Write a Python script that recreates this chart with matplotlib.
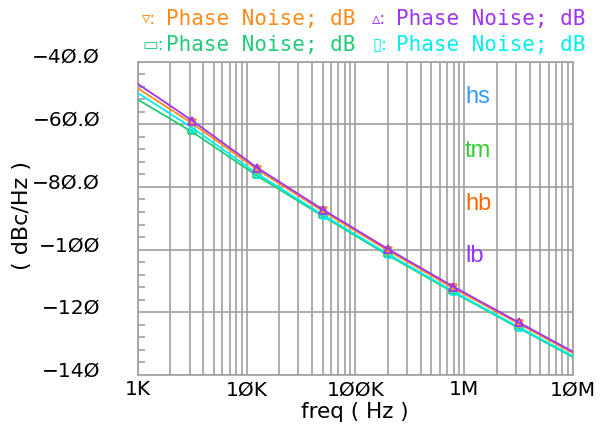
import numpy as np
import matplotlib
matplotlib.use('agg')
from matplotlib import pyplot as plt
from matplotlib.ticker import LogLocator, MultipleLocator, NullFormatter
from matplotlib.transforms import ScaledTranslation

# frequency points (log10 Hz) -- markers sit on the inner ones
log_freq = [3.0, 3.5, 4.1, 4.7, 5.3, 5.9, 6.5, 7.0]
pn_orange = [-48.5, -59.7, -74.5, -87.7, -100.3, -112.3, -123.6, -133.0]
pn_purple = [-47.1, -58.8, -73.9, -87.2, -99.8, -111.8, -123.2, -132.6]
pn_green = [-52.1, -62.4, -76.5, -89.3, -101.8, -113.6, -125.0, -134.3]
pn_cyan = [-50.0, -61.1, -75.8, -88.9, -101.4, -113.3, -124.7, -134.0]

xticks = [1e3, 1e4, 1e5, 1e6, 1e7]
xtick_labels = ['1K', '1ØK', '1ØØK', '1M', '1ØM']
yticks = [-40, -60, -80, -100, -120, -140]
ytick_labels = ['−4Ø.Ø', '−6Ø.Ø', '−8Ø.Ø', '−1ØØ', '−12Ø', '−14Ø']

corner_labels = ['hs', 'tm', 'hb', 'lb']
corner_colors = ['#3399FF', '#33CC33', '#FF6600', '#9933FF']

W, H = 604, 427
fig = plt.figure(figsize=(W / 100, H / 100), dpi=100)
ax = fig.add_axes([137.7 / W, 1 - 376 / H, 435.3 / W, 313.4 / H])

freq = 10 ** np.array(log_freq)
grey = '#A0A0A0'

wide_box = [(-1, -0.55), (1, -0.55), (1, 0.55), (-1, 0.55), (-1, -0.55)]
tall_box = [(-0.6, -1), (0.6, -1), (0.6, 1), (-0.6, 1), (-0.6, -1)]

series = [
    (pn_green, '#22CC77', wide_box),
    (pn_cyan, '#00EEEE', tall_box),
    (pn_orange, '#FF8C1A', 'v'),
    (pn_purple, '#A033F0', '^'),
]
for vals, col, mk in series:
    ax.plot(freq, vals, color=col, lw=1.3, marker=mk, markersize=6,
            markerfacecolor='none', markeredgecolor=col, markeredgewidth=1.2,
            markevery=list(range(1, len(freq) - 1)), zorder=3)

ax.set_xscale('log')
ax.set_xlim(1e3, 1e7)
ax.set_ylim(-140, -40)
ax.set_xticks(xticks)
ax.set_xticklabels(xtick_labels)
ax.xaxis.set_minor_locator(LogLocator(base=10, subs=np.arange(2, 10)))
ax.xaxis.set_minor_formatter(NullFormatter())
ax.set_yticks(yticks)
ax.set_yticklabels(ytick_labels)
ax.yaxis.set_minor_locator(MultipleLocator(4))

ax.grid(True, which='major', color=grey, lw=1.2)
ax.grid(True, which='minor', axis='x', color=grey, lw=1.2)
ax.tick_params(axis='both', which='major', length=0, labelsize=14.5, colors='black')
ax.tick_params(axis='x', which='major', pad=3)
ax.tick_params(axis='y', which='major', pad=27)
ax.tick_params(axis='x', which='minor', length=0)
ax.tick_params(axis='y', which='minor', direction='in', length=5, color=grey, width=1.2)
for sp in ax.spines.values():
    sp.set_color(grey)
    sp.set_linewidth(1.2)

for lab in ax.get_yticklabels():
    lab.set_fontfamily('DejaVu Sans')
    lab.set_transform(lab.get_transform() + ScaledTranslation(0, 7 / 100, fig.dpi_scale_trans))
for lab in ax.get_xticklabels():
    lab.set_fontfamily('DejaVu Sans')

fig.text(355 / W, 1 - 412 / H, 'freq ( Hz )', ha='center', va='center', fontsize=15.5)
fig.text(22 / W, 1 - 216 / H, '( dBc/Hz )', ha='center', va='center', rotation=90, fontsize=16)

# header legend
header = [
    (142, 19, '▿', '#FF8C1A'),
    (372, 19, '▵', '#A033F0'),
    (142, 45, '▭', '#22CC77'),
    (372, 45, '▯', '#00EEEE'),
]
for x0, y0, sym, col in header:
    fig.text(x0 / W, 1 - y0 / H, sym + ':', color=col, fontsize=12, ha='left', va='center',
             family='DejaVu Sans')
    fig.text((x0 + 24) / W, 1 - y0 / H, 'Phase Noise; dB', color=col, fontsize=15,
             ha='left', va='center', family='DejaVu Sans Mono')

for lab, col, yy in zip(corner_labels, corner_colors, [97, 151, 204, 256]):
    fig.text(465 / W, 1 - yy / H, lab, color=col, fontsize=17, ha='left', va='center',
             family='Liberation Sans')

fig.savefig('out.png', dpi=100)
